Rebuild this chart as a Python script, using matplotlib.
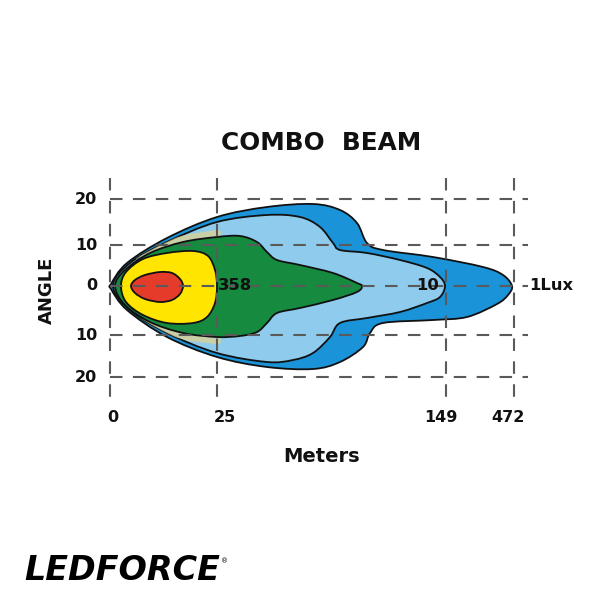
"""
Combo beam light-pattern diagram (LEDFORCE). Outlines are traced in chart
units: x = distance position along the beam, y = angular position (0 = axis).
"""
import numpy as np
import matplotlib.pyplot as plt
from matplotlib.path import Path
from matplotlib.patches import PathPatch

plt.rcParams['font.family'] = ['DejaVu Sans']

# ---- grid / tick data (chart units) ----
x_tick_pos = [0, 107, 336, 404]
x_tick_lab = ["0", "25", "149", "472"]
x_lab_pos = [3, 115, 331, 398]
y_tick_pos = [87, 41, 0, -49, -91]
y_tick_lab = ["20", "10", "0", "10", "20"]

# ---- beam iso-lux outlines (x, y) ----
outer_1lux = [(1, 2), (17, 23), (57, 48), (107, 69), (157, 79), (203, 82), (230, 76),
              (247, 63), (257, 43), (273, 36), (323, 29), (373, 19), (393, 11), (402, 0),
              (398, -9), (387, -18), (357, -31), (323, -34), (273, -37), (260, -47),
              (253, -61), (230, -76), (203, -83), (157, -81), (107, -71), (57, -51),
              (17, -24), (1, -3)]
lightblue_10 = [(3, 0), (20, 23), (57, 44), (107, 64), (157, 71), (190, 69), (210, 59),
                (223, 43), (230, 36), (257, 33), (290, 26), (317, 18), (330, 9), (335, 0),
                (330, -11), (317, -17), (290, -26), (257, -32), (230, -37), (220, -51),
                (203, -67), (183, -74), (157, -76), (107, -67), (57, -47), (20, -24)]
green = [(5, 0), (15, 16), (40, 33), (73, 44), (107, 49), (130, 50), (147, 44), (157, 34),
         (167, 26), (190, 21), (223, 13), (247, 3), (252, 0), (247, -6), (223, -14),
         (190, -22), (167, -27), (157, -37), (147, -46), (130, -50), (107, -51),
         (73, -47), (40, -36), (15, -19)]
yellow_358 = [(11, 0), (16, 14), (33, 27), (57, 33), (83, 35), (98, 30), (105, 16),
              (107, 0), (105, -17), (97, -31), (83, -37), (57, -37), (33, -29), (16, -16)]
red = [(21, 0), (25, 6), (35, 11), (50, 14), (62, 13), (70, 7), (73, 0), (70, -8),
       (62, -14), (50, -16), (35, -13), (25, -7)]

shapes = [(outer_1lux, "#1a93d8"), (lightblue_10, "#8ecbed"), (green, "#168a3f"),
          (yellow_358, "#ffe500"), (red, "#e53b2b")]

# faint yellow halo just outside the green zone (upper-left / lower-left)
halo_x = [25, 50, 80, 108]
halo_up = [30, 41, 49, 53]
halo_dn = [-33, -44, -52, -55]


def smooth_path(pts):
    # closed Catmull-Rom outline expressed as cubic Bezier segments
    p = np.array(pts, dtype=float)
    n = len(p)
    verts = [p[0]]
    codes = [Path.MOVETO]
    for i in range(n):
        p0, p1, p2, p3 = p[i - 1], p[i], p[(i + 1) % n], p[(i + 2) % n]
        verts += [p1 + (p2 - p0) / 6, p2 - (p3 - p1) / 6, p2]
        codes += [Path.CURVE4] * 3
    return Path(verts, codes)


fig = plt.figure(figsize=(6, 6), dpi=100)
ax = fig.add_axes([0, 0, 1, 1])
ax.set_xlim(-110, 490)
ax.set_ylim(-314, 286)
ax.axis("off")

patches = []
for i, (pts, col) in enumerate(shapes):
    patches.append(ax.add_patch(PathPatch(smooth_path(pts), fc=col, ec="#111",
                                          lw=1.3, zorder=2 + i)))
for hy in (halo_up, halo_dn):
    ln, = ax.plot(halo_x, hy, color="#d9d296", lw=4.5, alpha=0.8,
                  solid_capstyle="round", zorder=3.5)
    ln.set_clip_path(patches[1])

# dashed grid on top of the beam
dash = dict(color="#5a5a5a", lw=1.5, dashes=(6, 5), zorder=10)
for yp in y_tick_pos:
    ax.plot([0, 418], [yp, yp], **dash)
for xp in x_tick_pos:
    ax.plot([xp, xp], [108, -114], **dash)

tk = dict(fontsize=11.5, fontweight="bold", color="#111")
for yp, lab in zip(y_tick_pos, y_tick_lab):
    ax.text(-13, yp, lab, ha="right", va="center", **tk)
for xp, lab in zip(x_lab_pos, x_tick_lab):
    ax.text(xp, -132, lab, ha="center", va="center", **tk)

ax.text(-63, -4, "ANGLE", rotation=90, ha="center", va="center", fontsize=13,
        fontweight="bold", color="#111")
ax.text(212, -170, "Meters", ha="center", va="center", fontsize=14,
        fontweight="bold", color="#111")
ax.text(211, 143, "COMBO  BEAM", ha="center", va="center", fontsize=17.8,
        fontweight="bold", color="#111")

# lux labels
lux = dict(fontsize=11.8, fontweight="bold", color="#111", va="center", zorder=12)
ax.text(125, 0, "358", ha="center", **lux)
ax.text(318, 0, "10", ha="center", **lux)
ax.text(419, 0, "1Lux", ha="left", **lux)

# brand mark
ax.text(-86, -284, "LEDFORCE", ha="left", va="center", fontsize=24,
        fontweight="bold", fontstyle="italic", color="#000")
ax.text(111, -275, "®", ha="left", va="center", fontsize=5, color="#000")

fig.savefig("out.png", dpi=100, facecolor="white")
